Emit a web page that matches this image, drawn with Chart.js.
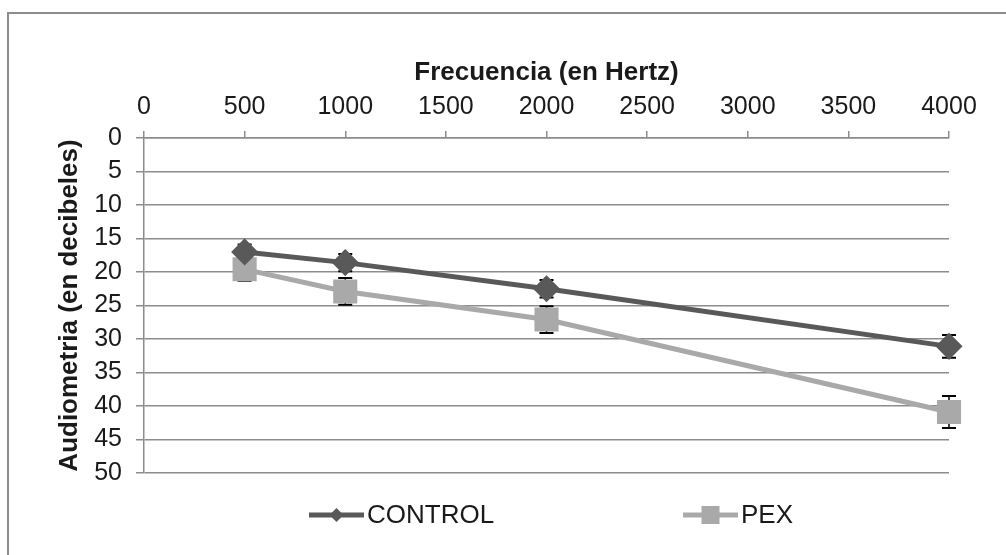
<!DOCTYPE html>
<html>
<head>
<meta charset="utf-8">
<script src="https://cdn.jsdelivr.net/npm/chart.js@4/dist/chart.umd.min.js"></script>
<style>
  html, body { margin: 0; padding: 0; background: #fff; }
  #wrap { position: relative; width: 1006px; height: 555px; overflow: hidden; }
  #frame { position: absolute; left: 7px; top: 12px; width: 1100px; height: 700px;
           border-left: 2px solid #8c8c8c; border-top: 2px solid #8c8c8c; }
  #audio { position: absolute; left: 0; top: 0; }
</style>
</head>
<body>
<div id="wrap">
  <div id="frame"></div>
  <canvas id="audio" width="1006" height="555"></canvas>
</div>
<script>
const frequencies = [500, 1000, 2000, 4000];
const control = [17, 18.6, 22.5, 31.1];
const controlErr = [1.1, 1.3, 1.3, 1.7];
const pex = [19.6, 22.9, 27.1, 40.9];
const pexErr = [1.7, 2.0, 2.0, 2.4];
const xTicks = [0, 500, 1000, 1500, 2000, 2500, 3000, 3500, 4000];
const yTicks = [0, 5, 10, 15, 20, 25, 30, 35, 40, 45, 50];

const font = "'Liberation Sans', Arial, sans-serif";
const ctx = document.getElementById("audio");

const toPoints = (vals, errs) =>
  vals.map((v, i) => ({ x: frequencies[i], y: v, err: errs[i] }));

// error bars, drawn under the markers
const errorBars = {
  id: "errorBars",
  beforeDatasetsDraw(chart) {
    const c = chart.ctx;
    const xs = chart.scales.x, ys = chart.scales.y;
    c.save();
    c.strokeStyle = "#000";
    chart.data.datasets.forEach((ds) => {
      ds.data.forEach((p) => {
        const px = xs.getPixelForValue(p.x);
        const top = ys.getPixelForValue(p.y - p.err);
        const bot = ys.getPixelForValue(p.y + p.err);
        c.lineWidth = 1.5;
        c.beginPath();
        c.moveTo(px, top); c.lineTo(px, bot);
        c.stroke();
        c.lineWidth = 2;
        c.beginPath();
        c.moveTo(px - 7, top); c.lineTo(px + 7, top);
        c.moveTo(px - 7, bot); c.lineTo(px + 7, bot);
        c.stroke();
      });
    });
    c.restore();
  },
};

// legend like the original: line with marker, items spread apart
const lineLegend = {
  id: "lineLegend",
  afterDraw(chart, args, opts) {
    const c = chart.ctx;
    c.save();
    c.font = "26px " + font;
    c.textBaseline = "middle";
    chart.data.datasets.forEach((ds, i) => {
      const x0 = opts.starts[i], y = opts.y, w = 55;
      c.strokeStyle = ds.borderColor;
      c.lineWidth = 5;
      c.beginPath();
      c.moveTo(x0, y); c.lineTo(x0 + w, y);
      c.stroke();
      c.fillStyle = ds.pointBackgroundColor;
      const cx = x0 + w / 2;
      c.beginPath();
      if (ds.pointStyle === "rectRot") {
        c.moveTo(cx, y - 7); c.lineTo(cx + 7, y); c.lineTo(cx, y + 7); c.lineTo(cx - 7, y);
      } else {
        c.rect(cx - 9, y - 9, 18, 18);
      }
      c.closePath();
      c.fill();
      c.fillStyle = "#1a1a1a";
      c.fillText(ds.label, x0 + w + 3, y + 1);
    });
    c.restore();
  },
};

new Chart(ctx, {
  type: "line",
  data: {
    datasets: [
      {
        label: "CONTROL",
        data: toPoints(control, controlErr),
        borderColor: "#595959",
        backgroundColor: "#595959",
        pointBackgroundColor: "#595959",
        pointBorderColor: "#595959",
        pointStyle: "rectRot",
        pointRadius: 10,
        borderWidth: 5,
        tension: 0,
        clip: false,
      },
      {
        label: "PEX",
        data: toPoints(pex, pexErr),
        borderColor: "#a9a9a9",
        backgroundColor: "#a9a9a9",
        pointBackgroundColor: "#a9a9a9",
        pointBorderColor: "#a9a9a9",
        pointStyle: "rect",
        pointRadius: 13.5,
        borderWidth: 5,
        tension: 0,
        clip: false,
      },
    ],
  },
  options: {
    responsive: false,
    animation: false,
    events: [],
    layout: { padding: { left: 50, top: 53, right: 57, bottom: 82 } },
    scales: {
      x: {
        type: "linear",
        position: "top",
        min: 0,
        max: 4000,
        afterBuildTicks: (scale) => { scale.ticks = xTicks.map((v) => ({ value: v })); },
        afterFit: (scale) => { scale.height = 85; },
        ticks: {
          padding: 9,
          color: "#1a1a1a",
          font: { family: font, size: 25 },
          callback: (v) => String(v),
        },
        grid: {
          drawOnChartArea: false,
          drawTicks: true,
          tickLength: 7,
          color: "#8c8c8c",
          lineWidth: 1.5,
        },
        border: { display: true, color: "#8c8c8c", width: 1.5 },
        title: {
          display: true,
          text: "Frecuencia (en Hertz)",
          color: "#1a1a1a",
          padding: { top: 4, bottom: 0 },
          font: { family: font, size: 26, weight: "bold" },
        },
      },
      y: {
        type: "linear",
        reverse: true,
        min: 0,
        max: 50,
        afterBuildTicks: (scale) => { scale.ticks = yTicks.map((v) => ({ value: v })); },
        afterFit: (scale) => { scale.width = 94; },
        ticks: {
          padding: 14,
          color: "#1a1a1a",
          font: { family: font, size: 25 },
          callback: (v) => String(v),
        },
        grid: {
          drawOnChartArea: true,
          drawTicks: true,
          tickLength: 8,
          color: "#8c8c8c",
          lineWidth: 1.5,
        },
        border: { display: true, color: "#8c8c8c", width: 1.5 },
        title: {
          display: true,
          text: "Audiometria (en decibeles)",
          color: "#1a1a1a",
          padding: { top: 4, bottom: 0 },
          font: { family: font, size: 26, weight: "bold" },
        },
      },
    },
    plugins: {
      legend: { display: false },
      tooltip: { enabled: false },
      lineLegend: { starts: [309, 683], y: 515 },
    },
  },
  plugins: [errorBars, lineLegend],
});
</script>
</body>
</html>
